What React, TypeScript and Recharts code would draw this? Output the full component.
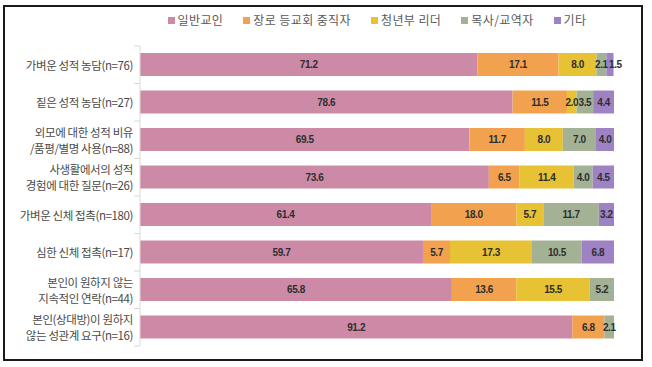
import { BarChart, Bar, XAxis, YAxis, LabelList } from "recharts";

// categories (label lines split by "\n")
const categories = [
  "가벼운 성적 농담(n=76)",
  "짙은 성적 농담(n=27)",
  "외모에 대한 성적 비유\n/품평/별명 사용(n=88)",
  "사생활에서의 성적\n경험에 대한 질문(n=26)",
  "가벼운 신체 접촉(n=180)",
  "심한 신체 접촉(n=17)",
  "본인이 원하지 않는\n지속적인 연락(n=44)",
  "본인(상대방)이 원하지\n않는 성관계 요구(n=16)",
];

const layMembers = [71.2, 78.6, 69.5, 73.6, 61.4, 59.7, 65.8, 91.2];
const elders = [17.1, 11.5, 11.7, 6.5, 18.0, 5.7, 13.6, 6.8];
const youthLeaders = [8.0, 2.0, 8.0, 11.4, 5.7, 17.3, 15.5, null];
const pastors = [2.1, 3.5, 7.0, 4.0, 11.7, 10.5, 5.2, 2.1];
const others = [1.5, 4.4, 4.0, 4.5, 3.2, 6.8, null, null];

const series = [
  { key: "lay", name: "일반교인", color: "#CC8AA6", values: layMembers },
  { key: "elder", name: "장로 등교회 중직자", color: "#F2A24F", values: elders },
  { key: "youth", name: "청년부 리더", color: "#E6C234", values: youthLeaders },
  { key: "pastor", name: "목사/교역자", color: "#A3B295", values: pastors },
  { key: "etc", name: "기타", color: "#9F82C4", values: others },
];

const data = categories.map((name, i) => {
  const row: Record<string, any> = { name };
  series.forEach((s) => {
    row[s.key] = s.values[i];
  });
  return row;
});

const KR_FONT = "'Noto Sans CJK KR', 'Noto Sans', sans-serif";

const CategoryTick = (props: any) => {
  const { x, y, payload, index } = props;
  const half = payload?.offset || 18.75;
  const axisX = x + 7;
  const lines = String(payload.value).split("\n");
  const lineH = 16;
  const startY = y - ((lines.length - 1) * lineH) / 2;
  return (
    <g>
      {index === 0 && (
        <line x1={axisX - 6} x2={axisX} y1={y - half} y2={y - half} stroke="#D9D9D9" />
      )}
      <line x1={axisX - 6} x2={axisX} y1={y + half} y2={y + half} stroke="#D9D9D9" />
      <text
        x={x}
        y={startY}
        textAnchor="end"
        dominantBaseline="central"
        fontSize={11.5}
        fill="#4A4A4A"
        fontFamily={KR_FONT}
        letterSpacing={-0.4}
      >
        {lines.map((l, k) => (
          <tspan key={k} x={x} y={startY + k * lineH}>
            {l}
          </tspan>
        ))}
      </text>
    </g>
  );
};

const fmt = (v: any) => (v == null || v === 0 ? "" : Number(v).toFixed(1));

// value label; a too-narrow last segment pushes its label to the right like Excel
const SegmentLabel = (props: any) => {
  const { x, y, width, height, value, last } = props;
  const text = fmt(value);
  if (!text) return null;
  const narrow = last && width < 10;
  return (
    <text
      x={narrow ? x + width / 2 - 1 : x + width / 2}
      y={y + height / 2}
      textAnchor={narrow ? "start" : "middle"}
      dominantBaseline="central"
      fill="#2E2E2E"
      fontSize={10}
      fontWeight="bold"
      letterSpacing={-0.4}
      fontFamily="'Liberation Sans', Arial, sans-serif"
    >
      {text}
    </text>
  );
};

export default function App() {
  return (
    <div
      style={{
        position: "fixed",
        left: 0,
        top: 0,
        width: 652,
        height: 367,
        background: "#fff",
      }}
    >
      <div
        style={{
          position: "absolute",
          left: 3,
          top: 5,
          width: 636,
          height: 352,
          border: "2px solid #1a1a1a",
        }}
      />
      <div
        style={{
          position: "absolute",
          left: 140,
          width: 474,
          top: 11,
          display: "flex",
          justifyContent: "center",
          gap: 20,
          fontFamily: KR_FONT,
          fontSize: 12,
          letterSpacing: 0.4,
          color: "#595959",
          lineHeight: "18px",
        }}
      >
        {series.map((s) => (
          <div key={s.key} style={{ display: "flex", alignItems: "center" }}>
            <span
              style={{
                display: "inline-block",
                width: 7,
                height: 7,
                background: s.color,
                marginRight: 3,
              }}
            />
            <span>{s.name}</span>
          </div>
        ))}
      </div>
      <div style={{ position: "absolute", left: 0, top: 0 }}>
        <BarChart
          width={652}
          height={367}
          data={data}
          layout="vertical"
          margin={{ top: 46, right: 38, bottom: 21, left: 0 }}
          barSize={23}
        >
          <XAxis type="number" domain={[0, 100]} hide allowDataOverflow />
          <YAxis
            type="category"
            dataKey="name"
            width={140}
            tickLine={false}
            tickSize={0}
            tickMargin={7}
            axisLine={{ stroke: "#D9D9D9" }}
            tick={<CategoryTick />}
            interval={0}
          />
          {series.map((s, si) => (
            <Bar
              key={s.key}
              dataKey={s.key}
              name={s.name}
              stackId="a"
              fill={s.color}
              isAnimationActive={false}
            >
              <LabelList
                dataKey={s.key}
                content={(p: any) => (
                  <SegmentLabel {...p} last={si === series.length - 1} />
                )}
              />
            </Bar>
          ))}
        </BarChart>
      </div>
    </div>
  );
}
